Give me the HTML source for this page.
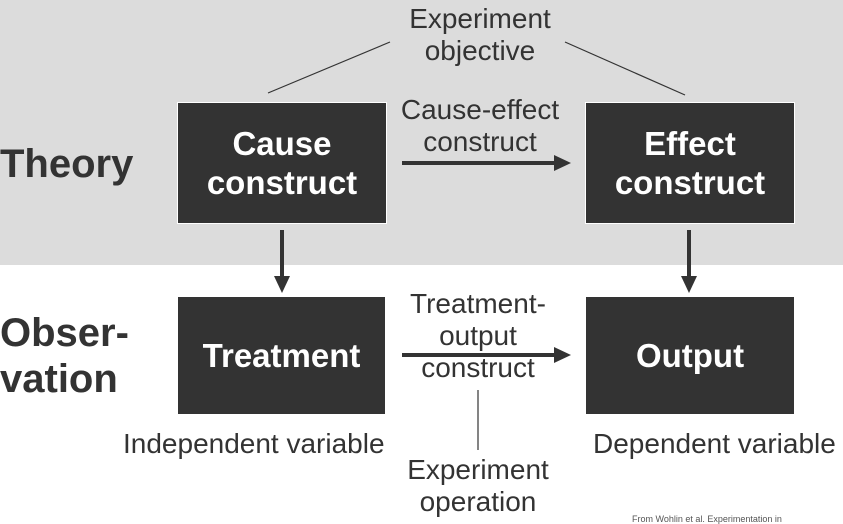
<!DOCTYPE html>
<html><head><style>
body{margin:0;width:843px;height:521px;overflow:hidden;background:#fff;font-family:"Liberation Sans",Arial,sans-serif;position:relative}
.g{position:absolute;left:0;top:0;width:843px;height:265px;background:#dcdcdc}
.box{position:absolute;background:#333;border:1px solid #fff;color:#fff;font-weight:bold;font-size:33px;line-height:39px;display:flex;align-items:center;justify-content:center;text-align:center}
.t{position:absolute;color:#333;font-size:28px;line-height:32px;text-align:center;white-space:nowrap}
.h{position:absolute;color:#333;font-weight:bold;font-size:40px;line-height:46px}
</style></head><body>
<div class="g"></div>
<svg width="843" height="521" style="position:absolute;left:0;top:0">
<g stroke="#333" stroke-width="1.2"><line x1="268" y1="93" x2="390" y2="42"/><line x1="565" y1="42" x2="685" y2="95"/><line x1="478" y1="390" x2="478" y2="450"/></g>
<g stroke="#333" stroke-width="4"><line x1="402" y1="163" x2="556" y2="163"/><line x1="402" y1="355" x2="556" y2="355"/><line x1="282" y1="230" x2="282" y2="278"/><line x1="689" y1="230" x2="689" y2="278"/></g>
<g fill="#333"><polygon points="554,155 571,163 554,171"/><polygon points="554,347 571,355 554,363"/><polygon points="274,276 282,293 290,276"/><polygon points="681,276 689,293 697,276"/></g>
</svg>
<div class="box" style="left:177px;top:102px;width:208px;height:120px">Cause<br>construct</div>
<div class="box" style="left:585px;top:102px;width:208px;height:120px">Effect<br>construct</div>
<div class="box" style="left:177px;top:296px;width:207px;height:117px">Treatment</div>
<div class="box" style="left:585px;top:296px;width:208px;height:117px">Output</div>
<div class="t" style="left:380px;top:3px;width:200px">Experiment<br>objective</div>
<div class="t" style="left:380px;top:94px;width:200px">Cause-effect<br>construct</div>
<div class="t" style="left:378px;top:288px;width:200px">Treatment-<br>output<br>construct</div>
<div class="t" style="left:378px;top:454px;width:200px">Experiment<br>operation</div>
<div class="t" style="left:123px;top:428px">Independent variable</div>
<div class="t" style="left:593px;top:428px">Dependent variable</div>
<div class="h" style="left:0;top:141px">Theory</div>
<div class="h" style="left:0;top:310px">Obser-<br>vation</div>
<div style="position:absolute;left:632px;top:514px;font-size:9px;color:#555;white-space:nowrap">From Wohlin et al. Experimentation in</div>
</body></html>
